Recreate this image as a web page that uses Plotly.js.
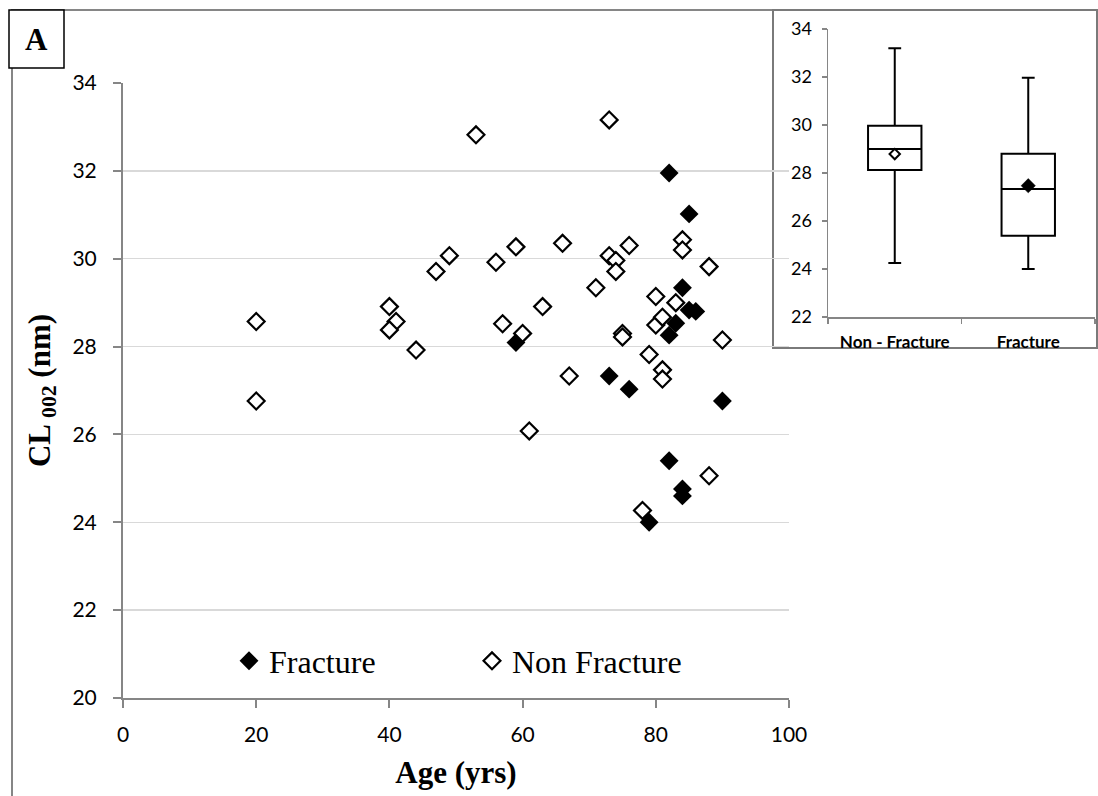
<!DOCTYPE html>
<html>
<head>
<meta charset="utf-8">
<script src="https://cdn.plot.ly/plotly-3.0.1.min.js"></script>
<style>html,body{margin:0;padding:0;background:#fff;}#chart{width:1098px;height:796px;}</style>
</head>
<body>
<div id="chart"></div>
<script>
// Fracture group (age in years, CL002 in nm)
var fractureAge = [59, 73, 76, 79, 82, 82, 82, 83, 84, 84, 84, 85, 85, 86, 90];
var fractureCL  = [28.09, 27.33, 27.03, 24.0, 31.95, 28.26, 25.4, 28.53, 29.34, 24.76, 24.6, 31.02, 28.83, 28.8, 26.76];

// Non fracture group
var nonFractureAge = [20, 20, 40, 41, 40, 44, 47, 49, 53, 56, 57, 59, 60, 61, 63, 66, 67, 71, 73, 73, 74, 74, 75, 75, 76, 78, 79, 80, 80, 81, 81, 81, 83, 84, 84, 88, 88, 90];
var nonFractureCL  = [28.57, 26.76, 28.91, 28.57, 28.38, 27.92, 29.71, 30.07, 32.82, 29.92, 28.52, 30.27, 28.3, 26.08, 28.91, 30.35, 27.33, 29.34, 33.16, 30.07, 29.96, 29.71, 28.3, 28.22, 30.3, 24.27, 27.82, 29.14, 28.49, 28.67, 27.47, 27.26, 29.0, 30.43, 30.2, 29.82, 25.06, 28.15];

// Inset box plot summary statistics
var boxCats  = ['Non - Fracture', 'Fracture'];
var boxLow   = [24.25, 24.0];
var boxQ1    = [28.13, 25.39];
var boxMed   = [29.0, 27.33];
var boxQ3    = [29.97, 28.8];
var boxHigh  = [33.2, 31.97];
var boxMean  = [28.79, 27.47];

// Tick values
var xTicks  = [0, 20, 40, 60, 80, 100];
var yTicks  = [20, 22, 24, 26, 28, 30, 32, 34];
var y2Ticks = [22, 24, 26, 28, 30, 32, 34];

var W = 1098, H = 796;
function px(x) { return x / W; }
function py(y) { return 1 - y / H; }

var axisGray = '#868686';
var gridGray = '#d9d9d9';
var tickFont = {family: 'Lato, "Open Sans", sans-serif', size: 21, color: '#000'};
var serifBold = {family: '"Liberation Serif", "Times New Roman", serif', size: 31, color: '#000', weight: 'bold'};

var traces = [
  {
    type: 'scatter', mode: 'markers', name: 'Fracture',
    x: fractureAge, y: fractureCL, xaxis: 'x', yaxis: 'y',
    marker: {symbol: 'diamond', size: 14.5, color: '#000', opacity: 1, line: {color: '#000', width: 0}},
    hoverinfo: 'x+y'
  },
  {
    type: 'scatter', mode: 'markers', name: 'Non Fracture',
    x: nonFractureAge, y: nonFractureCL, xaxis: 'x', yaxis: 'y',
    marker: {symbol: 'diamond', size: 13, color: '#fff', opacity: 1, line: {color: '#000', width: 2.2}},
    hoverinfo: 'x+y'
  },
  {
    type: 'box', name: 'summary', xaxis: 'x2', yaxis: 'y2',
    x: boxCats, q1: boxQ1, median: boxMed, q3: boxQ3,
    lowerfence: boxLow, upperfence: boxHigh,
    fillcolor: '#fff', line: {color: '#000', width: 2},
    whiskerwidth: 0.24, width: 0.4, boxpoints: false,
    showlegend: false, hoverinfo: 'skip'
  },
  {
    type: 'scatter', mode: 'markers', name: 'mean', xaxis: 'x2', yaxis: 'y2',
    x: boxCats, y: boxMean,
    marker: {symbol: 'diamond', size: [8, 11], color: ['#fff', '#000'], opacity: 1,
             line: {color: '#000', width: [2, 0.5]}},
    showlegend: false, hoverinfo: 'skip'
  }
];

var layout = {
  width: W, height: H,
  margin: {l: 0, r: 0, t: 0, b: 0},
  paper_bgcolor: '#fff', plot_bgcolor: '#fff',
  showlegend: true,
  legend: {
    orientation: 'h', x: px(229), xanchor: 'left', y: py(661), yanchor: 'middle',
    font: {family: '"Liberation Serif", "Times New Roman", serif', size: 32, color: '#000'},
    bgcolor: 'rgba(0,0,0,0)', entrywidth: 198, entrywidthmode: 'pixels', itemsizing: 'trace'
  },
  xaxis: {
    domain: [px(123), px(789)], range: [0, 100], tickvals: xTicks,
    showgrid: false, zeroline: false, showline: true, linecolor: axisGray, linewidth: 2,
    ticks: 'outside', ticklen: 8, tickwidth: 2, tickcolor: axisGray,
    tickfont: tickFont, ticklabelstandoff: 9,
    title: {text: 'Age (yrs)', font: serifBold, standoff: 16},
    anchor: 'y', fixedrange: true
  },
  yaxis: {
    domain: [py(698), py(83)], range: [20, 34], tickvals: yTicks,
    showgrid: true, gridcolor: gridGray, gridwidth: 1.5,
    zeroline: false, showline: true, linecolor: axisGray, linewidth: 2,
    ticks: 'outside', ticklen: 8, tickwidth: 2, tickcolor: axisGray,
    tickfont: tickFont, ticklabelstandoff: 12,
    title: {text: 'CL <sub>002</sub> (nm)', font: serifBold, standoff: 13},
    anchor: 'x', fixedrange: true
  },
  xaxis2: {
    domain: [px(828), px(1095)], range: [-0.5, 1.5],
    type: 'category', categoryorder: 'array', categoryarray: boxCats,
    showgrid: false, zeroline: false, showline: true, linecolor: axisGray, linewidth: 1.5,
    ticks: 'outside', tickson: 'boundaries', ticklen: 5, tickwidth: 1.5, tickcolor: axisGray,
    tickfont: {family: 'Lato, "Open Sans", sans-serif', size: 17, color: '#000', weight: 'bold'},
    ticklabelstandoff: 9,
    anchor: 'y2', fixedrange: true
  },
  yaxis2: {
    domain: [py(317), py(29)], range: [22, 34], tickvals: y2Ticks,
    showgrid: false, zeroline: false, showline: true, linecolor: axisGray, linewidth: 1.5,
    ticks: 'outside', ticklen: 5, tickwidth: 1.5, tickcolor: axisGray,
    tickfont: {family: 'Lato, "Open Sans", sans-serif', size: 18, color: '#000'},
    ticklabelstandoff: 6,
    anchor: 'x2', fixedrange: true
  },
  shapes: [
    // outer chart frame
    {type: 'rect', xref: 'paper', yref: 'paper', x0: px(12), x1: 1.02, y0: -0.02, y1: py(10),
     line: {color: axisGray, width: 2}, fillcolor: 'rgba(0,0,0,0)', layer: 'below'},
    // inset frame and background
    {type: 'rect', xref: 'x2 domain', yref: 'y2 domain',
     x0: (773 - 828) / 267, x1: (1097 - 828) / 267, y0: (317 - 348) / 288, y1: (317 - 10) / 288,
     line: {color: '#7a7a7a', width: 2}, fillcolor: '#fff', layer: 'below'},
    // panel label box
    {type: 'rect', xref: 'paper', yref: 'paper', x0: px(9), x1: px(64), y0: py(68), y1: py(10),
     line: {color: '#000', width: 1.5}, fillcolor: '#fff', layer: 'above'}
  ],
  annotations: [
    {text: 'A', xref: 'paper', yref: 'paper', x: px(36.5), y: py(39), xanchor: 'center', yanchor: 'middle',
     showarrow: false, font: {family: '"Liberation Serif", "Times New Roman", serif', size: 31, color: '#000', weight: 'bold'}}
  ]
};

Plotly.newPlot('chart', traces, layout, {displayModeBar: false, staticPlot: true});
</script>
</body>
</html>
